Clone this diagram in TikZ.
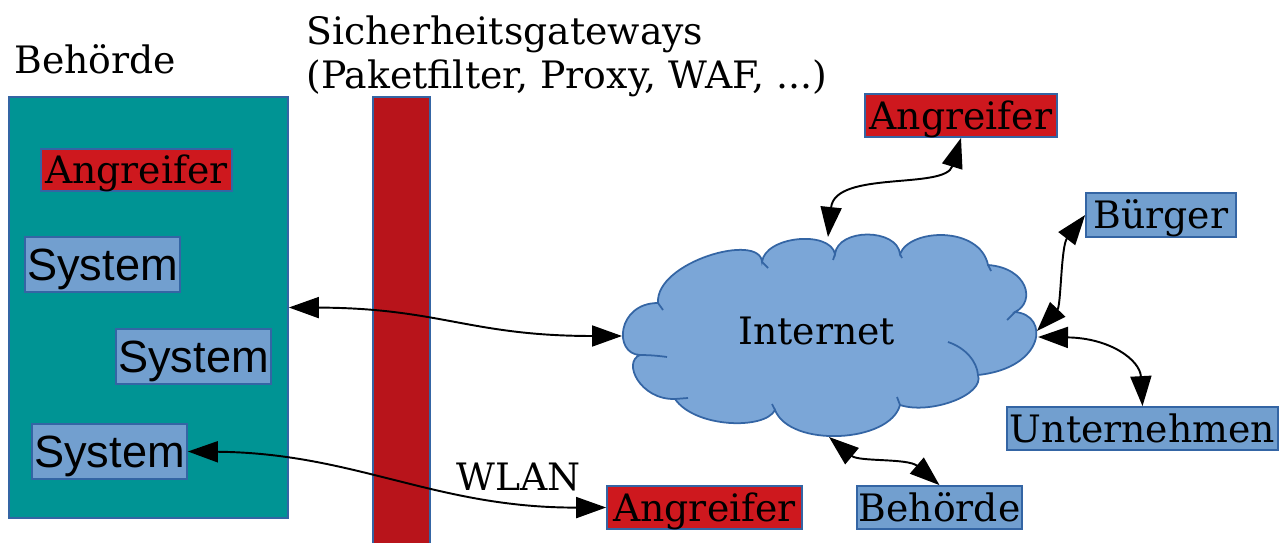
\documentclass[tikz,border=0pt]{standalone}
\usepackage{fontspec}
\setmainfont{DejaVu Serif}
\newfontfamily\sysfont{Liberation Sans}
\usetikzlibrary{arrows.meta}

\definecolor{edgeblue}{RGB}{52,101,164}
\definecolor{zoneteal}{RGB}{0,148,148}
\definecolor{barred}{RGB}{184,20,27}
\definecolor{foered}{RGB}{206,24,30}
\definecolor{boxblue}{RGB}{114,159,207}
\definecolor{cloudblue}{RGB}{123,166,215}

\tikzset{
  lbl/.style={font=\fontsize{21.5}{25}\selectfont, inner sep=0pt},
  tag/.style={draw=edgeblue, line width=1pt, font=\fontsize{21.5}{25}\selectfont,
              inner sep=0pt, minimum height=0.86cm, text height=15.7pt, text depth=0pt},
  foe/.style={tag, fill=foered},
  party/.style={tag, fill=boxblue},
  sys/.style={draw=edgeblue, line width=1pt, fill=boxblue,
              font=\sysfont\fontsize{25.7}{30}\selectfont, inner sep=0pt,
              text height=18.4pt, text depth=0pt,
              minimum width=3.1cm, minimum height=1.1cm},
  link/.style={line width=1.1pt,
               {Triangle[length=0.6cm,width=0.42cm]}-{Triangle[length=0.6cm,width=0.42cm]}},
  cloudline/.style={draw=edgeblue, line width=1pt},
}

\begin{document}
\begin{tikzpicture}[x=0.02cm,y=-0.02cm]
\useasboundingbox (0,0) rectangle (1280,543);

% agency zone with its systems
\node[lbl, anchor=base west] (zonelbl) at (14,74) {Behörde};
\node[draw=edgeblue, line width=1pt, fill=zoneteal, inner sep=0pt,
      minimum width=5.58cm, minimum height=8.42cm] (zone) at (148.5,307.5) {};
\node[foe, minimum width=3.82cm, minimum height=0.84cm] (atkin) at (136.5,170) {Angreifer};
\node[sys] (sys1) at (102.5,264.5) {System};
\node[sys] (sys2) at (193.5,356.5) {System};
\node[sys] (sys3) at (109.5,451.5) {System};

% security gateways
\node[lbl, anchor=base west] (gw1) at (306,45) {Sicherheitsgateways};
\node[lbl, anchor=base west] (gw2) at (306,89) {(Paketfilter, Proxy, WAF, ...)};
\draw[edgeblue, line width=1pt, fill=barred] (373,97) rectangle (430,550);

% internet cloud
\path[cloudline, fill=cloudblue]
  (640,355) .. controls (613,354) and (617,303) .. (658,303)
  .. controls (655,262) and (760,232) .. (762,262)
  .. controls (765,236) and (830,230) .. (835,254)
  .. controls (838,228) and (897,228) .. (900,254)
  .. controls (910,228) and (980,226) .. (988,265)
  .. controls (1028,268) and (1036,302) .. (1015,312)
  .. controls (1050,315) and (1045,368) .. (978,375)
  .. controls (985,395) and (930,415) .. (900,405)
  .. controls (890,443) and (790,448) .. (775,410)
  .. controls (765,430) and (695,428) .. (675,399)
  .. controls (640,400) and (622,362) .. (640,355) -- cycle;
\draw[cloudline] (640,355) .. controls (650,355) and (660,356) .. (667,357);
\draw[cloudline] (658,303) -- (663,310);
\draw[cloudline] (762,262) -- (768,268);
\draw[cloudline] (835,254) -- (833,260);
\draw[cloudline] (900,254) -- (902,258);
\draw[cloudline] (988,265) -- (991,271);
\draw[cloudline] (1015,312) -- (1007,320);
\draw[cloudline] (948,342) .. controls (966,348) and (977,362) .. (978,375);
\draw[cloudline] (900,405) -- (897,397);
\draw[cloudline] (775,410) -- (772,404);
\draw[cloudline] (675,399) -- (688,398);
\node[lbl, anchor=base west] (inet) at (738,345) {Internet};
\coordinate (cw) at (622,336);
\coordinate (cn) at (828,237);
\coordinate (ce1) at (1037,331);
\coordinate (ce2) at (1038,337);
\coordinate (cs) at (829,437);

% outside parties
\node[foe, minimum width=3.84cm] (atktop) at (961,115.5) {Angreifer};
\node[party, minimum width=3.0cm, minimum height=0.88cm] (buerger) at (1161,215) {Bürger};
\node[party, minimum width=5.42cm] (firm) at (1142.5,428.5) {Unternehmen};
\node[party, minimum width=3.3cm] (behoerde) at (939.5,507.5) {Behörde};
\node[foe, minimum width=3.9cm] (atkout) at (704.5,507.5) {Angreifer};
\node[lbl, anchor=base west] (wlan) at (456,490) {WLAN};

% connections
\draw[link] (zone.east) .. controls (440,308) and (470,336) .. (cw);
\draw[link] (sys3.east) .. controls (355,453) and (435,508) .. (atkout.west);
\draw[link] (atktop.south) .. controls (945,190) and (835,170) .. (cn);
\draw[link] (buerger.west) .. controls (1061,246) and (1061,306) .. (ce1);
\draw[link] (ce2) .. controls (1110,338) and (1140,360) .. (firm.north);
\draw[link] (cs) .. controls (859,462) and (908,458) .. (behoerde.north);
\end{tikzpicture}
\end{document}
